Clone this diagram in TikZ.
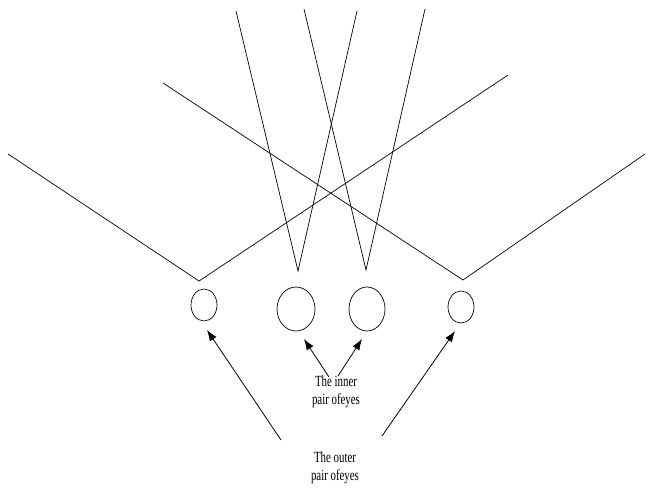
\documentclass[tikz,border=0pt]{standalone}
\usepackage{fontspec}
\newfontfamily\condserif[FakeStretch=0.7]{Liberation Serif}
\usetikzlibrary{shapes.geometric,arrows.meta}
\begin{document}
\begin{tikzpicture}[x=1pt,y=-1pt,
  ray/.style={line width=0.7pt},
  eye/.style={draw,ellipse,line width=0.7pt,inner sep=0pt},
  pointer/.style={line width=0.8pt,-{Latex[length=11pt,width=8pt]}},
  lbl/.style={align=center,font=\condserif\fontsize{15.5}{18.5}\selectfont,inner sep=0pt}]
\useasboundingbox (0,0) rectangle (652,490);
% eyes
\node[eye,minimum width=26pt,minimum height=32pt] (eA) at (204,305) {};
\node[eye,minimum width=38pt,minimum height=44pt] (eB) at (296,309) {};
\node[eye,minimum width=36pt,minimum height=44pt] (eC) at (367,309) {};
\node[eye,minimum width=26pt,minimum height=32pt] (eD) at (461,307) {};
% vertices
\coordinate (vA) at (199,281);
\coordinate (vB) at (298,271);
\coordinate (vC) at (366,270);
\coordinate (vD) at (463,280);
% free ends
\coordinate (a1) at (8,154);
\coordinate (a2) at (508,75);
\coordinate (d1) at (163,83);
\coordinate (d2) at (645,154);
\coordinate (b1) at (236,11);
\coordinate (b2) at (357,11);
\coordinate (c1) at (304,9);
\coordinate (c2) at (425,9);
\draw[ray] (a1) -- (vA) -- (a2);
\draw[ray] (d1) -- (vD) -- (d2);
\draw[ray] (b1) -- (vB) -- (b2);
\draw[ray] (c1) -- (vC) -- (c2);
% labels
\node[lbl] (inner) at (336,392) {The inner\\pair ofeyes};
\node[lbl] (outer) at (335,468) {The outer\\pair ofeyes};
% arrow tails/tips
\coordinate (t1) at (281,440);
\coordinate (t2) at (382,436);
\coordinate (t3) at (329,377);
\coordinate (t4) at (338,376);
\coordinate (p1) at (207,330);
\coordinate (p2) at (455,331);
\coordinate (p3) at (304,339);
\coordinate (p4) at (362,339);
\draw[pointer] (t1) -- (p1);
\draw[pointer] (t2) -- (p2);
\draw[pointer] (t3) -- (p3);
\draw[pointer] (t4) -- (p4);
\end{tikzpicture}
\end{document}
